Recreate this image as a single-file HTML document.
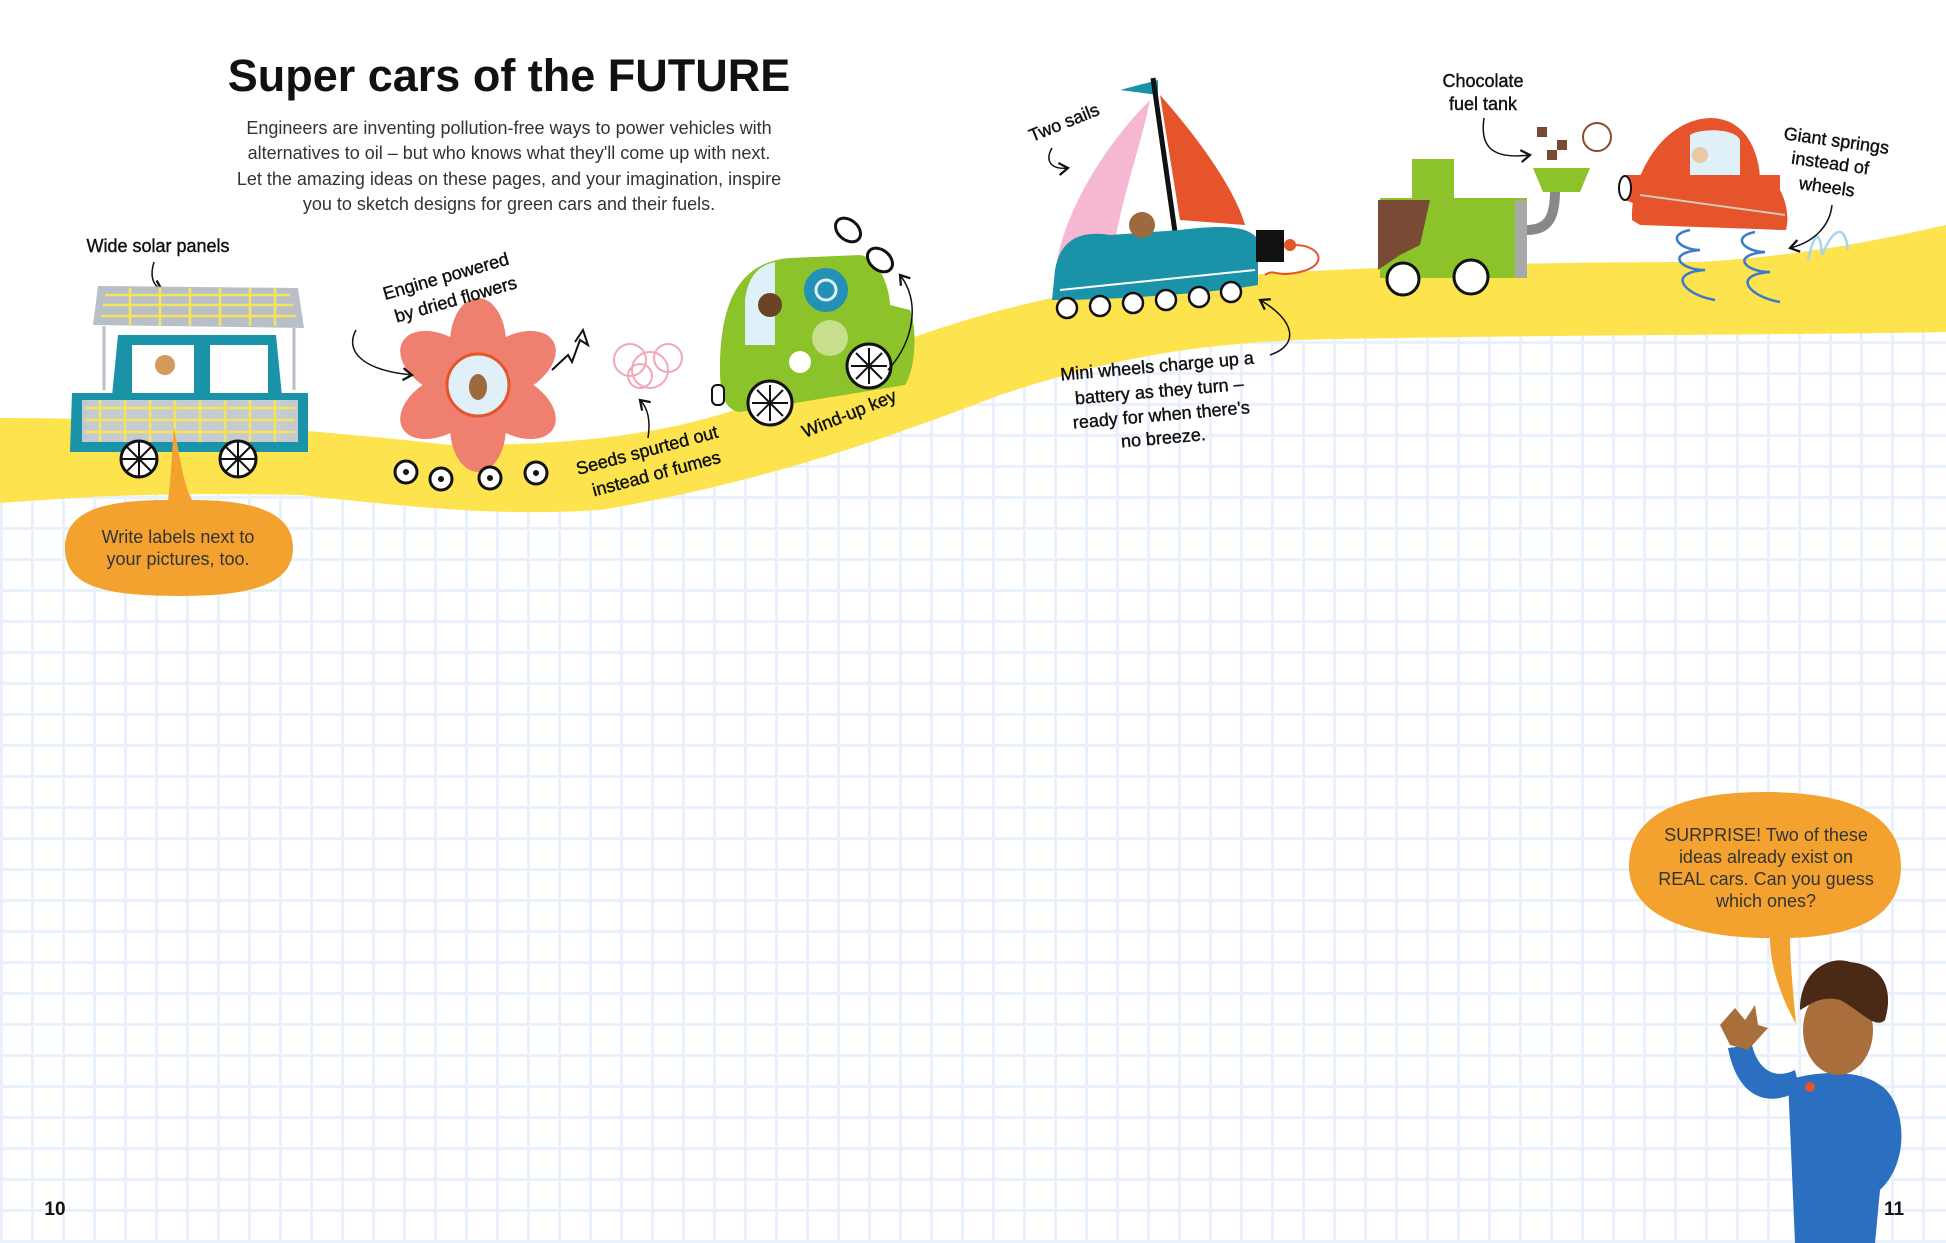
<!DOCTYPE html>
<html><head><meta charset="utf-8"><style>
html,body{margin:0;padding:0;background:#fff}
svg{display:block}
.h{font-family:"Liberation Sans Narrow","Liberation Sans",sans-serif;font-size:18px;fill:#111;stroke:#111;stroke-width:0.4}
.p{font-family:"Liberation Sans",sans-serif;font-size:18px;fill:#333}
</style></head><body>
<svg width="1946" height="1243" viewBox="0 0 1946 1243" xmlns="http://www.w3.org/2000/svg">
<defs>
<pattern id="g" width="31" height="31" patternUnits="userSpaceOnUse">
<rect width="31" height="31" fill="#fff"/>
<path d="M0 1.5H31M1.5 0V31" stroke="#e9f2fc" stroke-width="3"/>
</pattern>
<marker id="ar" markerWidth="10" markerHeight="10" refX="7" refY="5" orient="auto"><path d="M1 1L7 5L1 9" fill="none" stroke="#111" stroke-width="1.5"/></marker>
</defs>
<rect width="1946" height="1243" fill="url(#g)"/>
<path d="M0 0H1946V225C1880 240 1800 256 1700 262C1500 262 1300 268 1120 285C1000 305 900 335 750 405C650 440 550 445 450 445C300 428 150 418 0 418Z" fill="#fff"/>
<path d="M0 418C150 418 300 428 450 445C550 445 650 440 750 405C900 335 1000 305 1120 285C1300 268 1500 262 1700 262C1800 256 1880 240 1946 225V332C1800 335 1500 335 1300 340C1180 345 1100 362 1000 395C870 445 750 485 600 510C520 515 450 512 300 495C150 492 80 497 0 503Z" fill="#fde44e"/>

<text x="509" y="91" text-anchor="middle" font-family="Liberation Sans,sans-serif" font-weight="bold" font-size="45" fill="#111">Super cars of the FUTURE</text>
<text class="p" text-anchor="middle"><tspan x="509" y="134">Engineers are inventing pollution-free ways to power vehicles with</tspan><tspan x="509" y="159">alternatives to oil – but who knows what they'll come up with next.</tspan><tspan x="509" y="185">Let the amazing ideas on these pages, and your imagination, inspire</tspan><tspan x="509" y="210">you to sketch designs for green cars and their fuels.</tspan></text>

<!-- solar car -->
<text class="h" x="158" y="252" text-anchor="middle">Wide solar panels</text>
<path d="M154 262C150 275 152 285 162 290" fill="none" stroke="#111" stroke-width="1.5" marker-end="url(#ar)"/>
<polygon points="98,286 298,288 304,328 93,325" fill="#b8bfc8"/>
<path d="M105 295H290M103 305H293M101 316H296M130 288V326M160 288V326M190 288V326M220 288V326M250 288V326M275 288V326" stroke="#f5e35a" stroke-width="2.5"/>
<path d="M104 326V390M294 328V390" stroke="#b8bfc8" stroke-width="3"/>
<path d="M118 335H276L282 396H112Z" fill="#1a93a8"/>
<rect x="132" y="345" width="62" height="50" fill="#fff"/><rect x="210" y="345" width="58" height="50" fill="#fff"/>
<circle cx="165" cy="365" r="10" fill="#d49a5b"/>
<path d="M72 393H308V452H70Z" fill="#1a93a8"/>
<rect x="82" y="400" width="216" height="42" fill="#c4cad2"/>
<path d="M85 408H295M85 420H295M85 432H295M100 400V442M125 400V442M150 400V442M175 400V442M200 400V442M225 400V442M250 400V442M275 400V442" stroke="#f5e35a" stroke-width="2.5"/>
<g fill="#fff" stroke="#111" stroke-width="3"><circle cx="139" cy="459" r="18"/><circle cx="238" cy="459" r="18"/></g>
<path d="M121 459H157M139 441V477M127 447L151 471M151 447L127 471M220 459H256M238 441V477M226 447L250 471M250 447L226 471" stroke="#111" stroke-width="2"/>

<path d="M168 500C172 470 172 445 174 428C180 455 182 480 192 500C260 500 293 515 293 548C293 585 250 596 180 596C100 596 65 585 65 548C65 512 100 500 168 500Z" fill="#f3a230"/>
<text class="p" font-size="17" text-anchor="middle"><tspan x="178" y="543">Write labels next to</tspan><tspan x="178" y="565">your pictures, too.</tspan></text>

<!-- flower -->
<g fill="#ef8070" transform="translate(478,385)">
<ellipse rx="28" ry="45" transform="rotate(0) translate(0,-42)"/>
<ellipse rx="28" ry="45" transform="rotate(60) translate(0,-42)"/>
<ellipse rx="28" ry="45" transform="rotate(120) translate(0,-42)"/>
<ellipse rx="28" ry="45" transform="rotate(180) translate(0,-42)"/>
<ellipse rx="28" ry="45" transform="rotate(240) translate(0,-42)"/>
<ellipse rx="28" ry="45" transform="rotate(300) translate(0,-42)"/>
<circle r="45"/>
<circle r="31" fill="#dff0f8" stroke="#e5542b" stroke-width="3"/>
<ellipse cx="0" cy="2" rx="9" ry="13" fill="#9c6a3d"/>
</g>
<g fill="#fff" stroke="#111" stroke-width="3"><circle cx="406" cy="472" r="11"/><circle cx="441" cy="479" r="11"/><circle cx="490" cy="478" r="11"/><circle cx="536" cy="473" r="11"/></g>
<g fill="#111"><circle cx="406" cy="472" r="3"/><circle cx="441" cy="479" r="3"/><circle cx="490" cy="478" r="3"/><circle cx="536" cy="473" r="3"/></g>
<text class="h" transform="translate(385,300) rotate(-16)"><tspan x="0" y="0">Engine powered</tspan><tspan x="5" y="25">by dried flowers</tspan></text>
<path d="M356 330C345 350 360 370 412 375" fill="none" stroke="#111" stroke-width="1.5" marker-end="url(#ar)"/>
<path d="M552 370L568 355L572 362L580 340L588 345L583 330L575 342" fill="#fff" stroke="#111" stroke-width="2"/>
<g fill="none" stroke="#f0a8b8" stroke-width="2"><circle cx="630" cy="360" r="16"/><circle cx="650" cy="370" r="18"/><circle cx="668" cy="358" r="14"/><circle cx="640" cy="376" r="12"/></g>
<text class="h" transform="translate(578,475) rotate(-15)"><tspan x="0" y="0">Seeds spurted out</tspan><tspan x="10" y="25">instead of fumes</tspan></text>
<path d="M648 438C650 425 650 410 640 400" fill="none" stroke="#111" stroke-width="1.5" marker-end="url(#ar)"/>

<!-- green car -->
<path d="M720 370C720 300 740 262 790 258L860 255C880 258 890 290 890 305L910 310C918 330 915 370 905 385L740 412C725 410 720 395 720 370Z" fill="#8cc22a"/>
<path d="M745 300C748 275 760 265 775 262V345H745Z" fill="#dff0f8"/>
<circle cx="770" cy="305" r="12" fill="#6b4324"/>
<circle cx="826" cy="290" r="22" fill="#2390b5"/><circle cx="826" cy="290" r="10" fill="none" stroke="#dff0f8" stroke-width="3"/>
<circle cx="830" cy="338" r="18" fill="#c7de8c"/><circle cx="800" cy="362" r="11" fill="#fff"/>
<g fill="#fff" stroke="#111" stroke-width="3"><circle cx="770" cy="403" r="22"/><circle cx="869" cy="366" r="22"/></g>
<path d="M752 403H788M770 385V421M757 390L783 416M783 390L757 416M851 366H887M869 348V384M856 353L882 379M882 353L856 379" stroke="#111" stroke-width="2"/>
<rect x="712" y="385" width="12" height="20" rx="5" fill="#fff" stroke="#111" stroke-width="2"/>
<g fill="#fff" stroke="#111" stroke-width="3"><ellipse cx="848" cy="230" rx="14" ry="10" transform="rotate(40 848 230)"/><ellipse cx="880" cy="260" rx="14" ry="10" transform="rotate(40 880 260)"/></g>
<text class="h" transform="translate(805,438) rotate(-22)">Wind-up key</text>
<path d="M888 370C915 340 920 300 900 275" fill="none" stroke="#111" stroke-width="1.5" marker-end="url(#ar)"/>

<!-- sailboat -->
<polygon points="1158,80 1120,90 1158,95" fill="#1a93a8"/>
<path d="M1150 100C1100 150 1060 220 1055 275L1110 270C1120 200 1140 150 1150 100Z" fill="#f6b7d2"/>
<path d="M1160 95C1200 140 1235 190 1245 225L1180 220Z" fill="#e5542b"/>
<line x1="1153" y1="78" x2="1175" y2="232" stroke="#111" stroke-width="5"/>
<path d="M1055 270C1060 240 1080 230 1110 235L1180 230C1220 225 1250 225 1258 240L1258 285C1200 295 1100 300 1052 300Z" fill="#1a93a8"/>
<path d="M1060 290L1255 270" stroke="#fff" stroke-width="2"/>
<circle cx="1142" cy="225" r="13" fill="#9c6a3d"/>
<rect x="1256" y="230" width="28" height="32" fill="#111"/><circle cx="1290" cy="245" r="6" fill="#e5542b"/>
<path d="M1295 245C1320 245 1330 265 1300 272C1275 278 1275 268 1265 275" fill="none" stroke="#e5542b" stroke-width="2"/>
<g fill="#fff" stroke="#111" stroke-width="2.5"><circle cx="1067" cy="308" r="10"/><circle cx="1100" cy="306" r="10"/><circle cx="1133" cy="303" r="10"/><circle cx="1166" cy="300" r="10"/><circle cx="1199" cy="297" r="10"/><circle cx="1231" cy="292" r="10"/></g>
<text class="h" transform="translate(1032,142) rotate(-22)">Two sails</text>
<path d="M1052 148C1045 160 1050 170 1068 168" fill="none" stroke="#111" stroke-width="1.5" marker-end="url(#ar)"/>
<text class="h" text-anchor="middle" transform="rotate(-5 1160 400)"><tspan x="1160" y="372">Mini wheels charge up a</tspan><tspan x="1160" y="397">battery as they turn –</tspan><tspan x="1160" y="421">ready for when there's</tspan><tspan x="1160" y="444">no breeze.</tspan></text>
<path d="M1270 355C1300 345 1295 320 1260 300" fill="none" stroke="#111" stroke-width="1.5" marker-end="url(#ar)"/>

<!-- chocolate truck -->
<text class="h" text-anchor="middle"><tspan x="1483" y="87">Chocolate</tspan><tspan x="1483" y="110">fuel tank</tspan></text>
<path d="M1484 118C1480 145 1490 160 1530 155" fill="none" stroke="#111" stroke-width="1.5" marker-end="url(#ar)"/>
<rect x="1412" y="159" width="42" height="42" fill="#8cc22a"/>
<rect x="1380" y="198" width="147" height="80" fill="#8cc22a"/>
<rect x="1515" y="200" width="12" height="78" fill="#a8a8a8"/>
<path d="M1378 200H1430L1420 245L1400 255L1378 270Z" fill="#7a4b34"/>
<path d="M1527 230C1550 230 1555 215 1555 190" stroke="#888" stroke-width="10" fill="none"/>
<path d="M1533 168H1590L1580 192H1543Z" fill="#8cc22a"/>
<g fill="#7a4b34"><rect x="1537" y="127" width="10" height="10"/><rect x="1557" y="140" width="10" height="10"/><rect x="1547" y="150" width="10" height="10"/></g>
<circle cx="1597" cy="137" r="14" fill="none" stroke="#8a4a30" stroke-width="2"/>
<g fill="#fff" stroke="#111" stroke-width="3"><circle cx="1403" cy="279" r="16"/><circle cx="1471" cy="277" r="17"/></g>

<!-- hover car -->
<path d="M1632 220C1630 180 1660 120 1710 118C1750 118 1760 160 1760 180L1775 182C1785 195 1790 215 1786 230L1640 225Z" fill="#e5542b"/>
<path d="M1690 175V135C1700 128 1735 128 1740 140V178Z" fill="#dff0f8"/>
<circle cx="1700" cy="155" r="8" fill="#e8c9a4"/>
<path d="M1625 175H1780V230C1740 228 1680 222 1625 200Z" fill="#e5542b"/>
<path d="M1640 195L1785 215" stroke="#d8c9b8" stroke-width="2"/>
<ellipse cx="1625" cy="188" rx="6" ry="12" fill="#fff" stroke="#111" stroke-width="2"/>
<g fill="none" stroke="#3d7ac9" stroke-width="2.5"><path d="M1690 230c-25 5-10 20 10 20c-35 3-20 20 5 20c-40 3-20 25 10 30"/><path d="M1755 232c-25 5-10 20 10 20c-35 3-20 20 5 20c-40 3-20 25 10 30"/></g>
<path d="M1808 260C1815 230 1820 230 1822 255C1835 225 1845 225 1848 250" fill="none" stroke="#a8d4ef" stroke-width="2.5"/>
<text class="h" text-anchor="middle" transform="rotate(8 1830 165)"><tspan x="1833" y="146">Giant springs</tspan><tspan x="1830" y="169">instead of</tspan><tspan x="1830" y="193">wheels</tspan></text>
<path d="M1832 205C1830 225 1815 242 1790 248" fill="none" stroke="#111" stroke-width="1.5" marker-end="url(#ar)"/>

<!-- right bubble -->
<path d="M1770 938C1700 938 1629 920 1629 866C1629 810 1690 792 1765 792C1840 792 1901 810 1901 866C1901 915 1860 936 1790 938C1790 960 1793 990 1796 1024C1780 995 1770 965 1770 938Z" fill="#f3a230"/>
<text class="p" font-size="17" text-anchor="middle"><tspan x="1766" y="841">SURPRISE! Two of these</tspan><tspan x="1766" y="863">ideas already exist on</tspan><tspan x="1766" y="885">REAL cars. Can you guess</tspan><tspan x="1766" y="907">which ones?</tspan></text>

<!-- character -->
<path d="M1728 1048C1738 1100 1770 1108 1800 1090L1795 1070C1775 1080 1758 1070 1752 1045Z" fill="#2a6fc0"/>
<path d="M1720 1025L1735 1008L1745 1020L1755 1005L1758 1025L1768 1028L1748 1050L1730 1045Z" fill="#a86e3c"/>
<path d="M1788 1080C1820 1070 1860 1070 1880 1085C1905 1100 1912 1160 1880 1190L1875 1243H1795Z" fill="#2a6fc0"/>
<ellipse cx="1838" cy="1030" rx="35" ry="45" fill="#a86e3c"/>
<path d="M1800 1010C1800 970 1830 955 1850 962C1880 965 1895 985 1885 1020C1875 1030 1860 1010 1840 1000C1820 995 1810 1005 1800 1010Z" fill="#4a2a16"/>
<circle cx="1810" cy="1087" r="5" fill="#e5542b"/>

<text x="55" y="1215" font-family="Liberation Sans,sans-serif" font-weight="bold" font-size="19" text-anchor="middle" fill="#111">10</text>
<text x="1894" y="1215" font-family="Liberation Sans,sans-serif" font-weight="bold" font-size="19" text-anchor="middle" fill="#111">11</text>
</svg>
</body></html>
